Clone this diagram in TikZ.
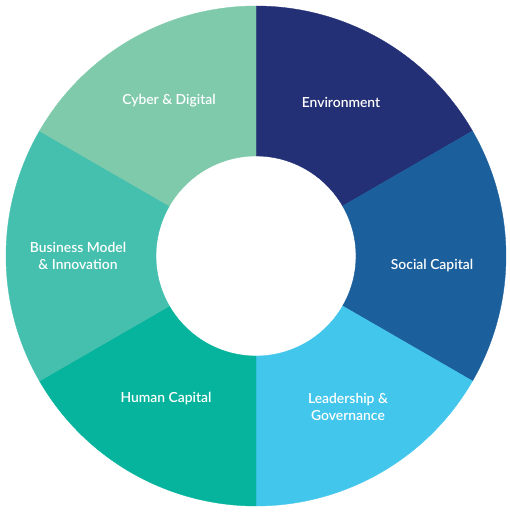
\documentclass[tikz,border=0pt]{standalone}
\usepackage{fontspec}
\usepackage{xcolor}
\setmainfont{Lato}[UprightFont={* Semibold}]
\definecolor{envblue}{HTML}{243076}
\definecolor{socblue}{HTML}{1B5F9C}
\definecolor{leadblue}{HTML}{43C6EC}
\definecolor{humgreen}{HTML}{06B39C}
\definecolor{busgreen}{HTML}{45BFAE}
\definecolor{cybgreen}{HTML}{7ECAAA}

\begin{document}
\begin{tikzpicture}
		\tikzset{label/.style = {text=white, align=center,
			font=\fontsize{7.9}{9.7}\selectfont}}
		\tikzset{ring/.style = {draw=#1, fill=#1, line width=0.2pt}}
		\useasboundingbox (-5.12,-5.16) rectangle (5.06,5.12);
		% segments
		\filldraw[ring=envblue] (90:5) arc[start angle=90, end angle=30, radius=5]
			-- (30:2) arc[start angle=30, end angle=90, radius=2] -- cycle;
		\filldraw[ring=socblue] (30:5) arc[start angle=30, end angle=-30, radius=5]
			-- (-30:2) arc[start angle=-30, end angle=30, radius=2] -- cycle;
		\filldraw[ring=leadblue] (-30:5) arc[start angle=-30, end angle=-90, radius=5]
			-- (-90:2) arc[start angle=-90, end angle=-30, radius=2] -- cycle;
		\filldraw[ring=humgreen] (-90:5) arc[start angle=-90, end angle=-150, radius=5]
			-- (-150:2) arc[start angle=-150, end angle=-90, radius=2] -- cycle;
		\filldraw[ring=busgreen] (-150:5) arc[start angle=-150, end angle=-210, radius=5]
			-- (150:2) arc[start angle=150, end angle=210, radius=2] -- cycle;
		\filldraw[ring=cybgreen] (150:5) arc[start angle=150, end angle=90, radius=5]
			-- (90:2) arc[start angle=90, end angle=150, radius=2] -- cycle;

		% labels
		\node[label] (env) at (1.70,3.08) {Environment};
		\node[label] (soc) at (3.52,-0.20) {Social Capital};
		\node[label] (lead) at (1.84,-3.02) {Leadership \&\\Governance};
		\node[label] (hum) at (-1.80,-2.86) {Human Capital};
		\node[label] (bus) at (-3.56,0) {Business Model\\\& Innovation};
		\node[label] (cyb) at (-1.74,3.10) {Cyber \& Digital};
\end{tikzpicture}
\end{document}
